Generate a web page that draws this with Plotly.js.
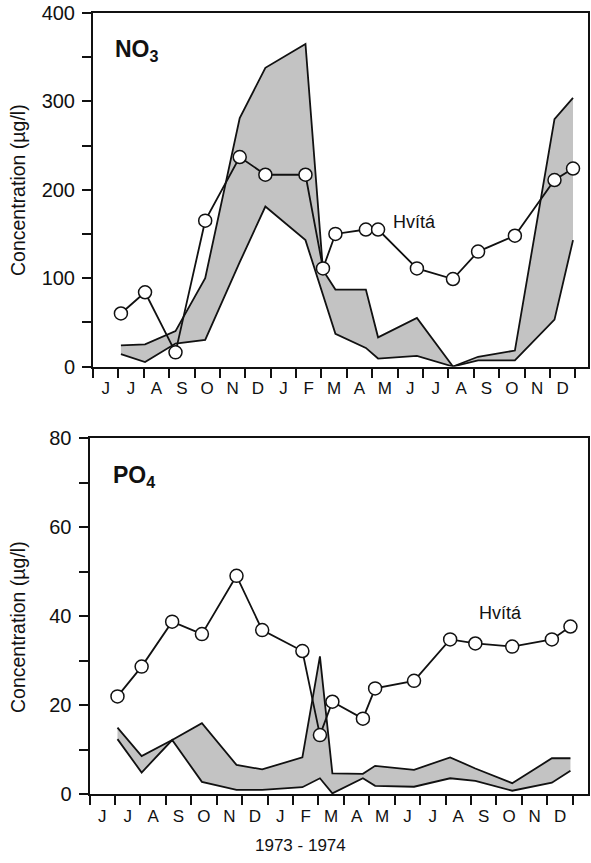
<!DOCTYPE html>
<html><head><meta charset="utf-8">
<script src="https://cdn.plot.ly/plotly-3.0.1.min.js"></script>
<style>html,body{margin:0;padding:0;background:#fff}#chart{width:591px;height:863px}</style>
</head><body><div id="chart"></div>
<script>
// Month labels (June 1973 – December 1974)
const monthLabels = ['J','J','A','S','O','N','D','J','F','M','A','M','J','J','A','S','O','N','D'];
// Sampling dates, in months since 1 June 1973
const sampleMonths = [1.1, 2.05, 3.25, 4.42, 5.78, 6.79, 8.37, 9.06, 9.55, 10.75, 11.23, 12.76, 14.18, 15.17, 16.62, 18.18, 18.91];

// NO3 (µg/l)
const no3Hvita    = [60, 84, 16, 165, 237, 217, 217, 111, 150, 155, 155, 111, 99, 130, 148, 211, 224];
const no3BandHigh = [24, 25, 40, 100, 281, 338, 365, 109, 87, 87, 33, 55, 0, 11, 18, 280, 304];
const no3BandLow  = [14, 5, 26, 30, 118, 181, 143, 82, 37, 21, 9, 12, 0, 7, 7, 53, 143];

// PO4 (µg/l)
const po4Hvita    = [22, 28.7, 38.8, 36, 49.1, 36.9, 32.2, 13.3, 20.8, 17, 23.8, 25.5, 34.8, 33.9, 33.2, 34.8, 37.7];
const po4BandHigh = [15, 8.6, 12.2, 16, 6.6, 5.6, 8.3, 31, 4.7, 4.6, 6.4, 5.5, 8.3, 5.8, 2.5, 8.1, 8.1];
const po4BandLow  = [12.4, 4.9, 12.2, 2.8, 1.0, 1.0, 1.6, 3.6, 0.2, 3.6, 1.9, 1.7, 3.6, 3.0, 0.8, 2.6, 5.3];

const no3Labels = [0, 100, 200, 300, 400];
const po4Labels = [0, 20, 40, 60, 80];

const FONT = '"Liberation Sans", Arial, Helvetica, sans-serif';
const BAND = '#c3c3c3';
const INK = '#111';

function bandTraces(high, low, xa, ya) {
  const xs = sampleMonths.concat(sampleMonths.slice().reverse());
  const ys = high.concat(low.slice().reverse());
  return [
    {x: xs, y: ys, xaxis: xa, yaxis: ya, type: 'scatter', mode: 'lines', fill: 'toself',
     fillcolor: BAND, line: {width: 0, color: BAND}, hoverinfo: 'skip', showlegend: false},
    {x: sampleMonths, y: high, xaxis: xa, yaxis: ya, type: 'scatter', mode: 'lines',
     line: {color: INK, width: 1.8}, showlegend: false},
    {x: sampleMonths, y: low, xaxis: xa, yaxis: ya, type: 'scatter', mode: 'lines',
     line: {color: INK, width: 1.8}, showlegend: false}
  ];
}
function hvitaTrace(vals, xa, ya) {
  return {x: sampleMonths, y: vals, xaxis: xa, yaxis: ya, type: 'scatter', mode: 'lines+markers',
    line: {color: INK, width: 1.8},
    marker: {size: 13, color: '#fff', line: {color: INK, width: 1.5}},
    cliponaxis: false, showlegend: false, name: 'Hvítá'};
}

const data = [].concat(
  bandTraces(no3BandHigh, no3BandLow, 'x', 'y'),
  [hvitaTrace(no3Hvita, 'x', 'y')],
  bandTraces(po4BandHigh, po4BandLow, 'x2', 'y2'),
  [hvitaTrace(po4Hvita, 'x2', 'y2')]
);

const W = 591, H = 863;
function xAxis(left, right, rangeMax, anchor) {
  return {
    domain: [left / W, right / W], range: [0, rangeMax], anchor: anchor,
    tickmode: 'array', tickvals: monthLabels.map((_, i) => i + 0.5), ticktext: monthLabels,
    ticks: '', ticklabelstandoff: 5,
    tickfont: {family: FONT, size: 17, color: INK},
    minor: {tickmode: 'linear', tick0: 0, dtick: 1, ticks: 'outside', ticklen: 9, tickwidth: 2, tickcolor: INK},
    showline: true, linecolor: INK, linewidth: 2, mirror: true,
    showgrid: false, zeroline: false, fixedrange: true
  };
}
function yAxis(top, bottom, labels, anchor) {
  const step = labels[1] - labels[0];
  return {
    domain: [1 - bottom / H, 1 - top / H], range: [labels[0], labels[labels.length - 1]], anchor: anchor,
    tickmode: 'array', tickvals: labels,
    ticks: 'outside', ticklen: 9, tickwidth: 2, tickcolor: INK, ticklabelstandoff: 3,
    tickfont: {family: FONT, size: 20, color: INK},
    minor: {tickmode: 'linear', tick0: 0, dtick: step / 2, ticks: 'outside', ticklen: 9, tickwidth: 2, tickcolor: INK},
    showline: true, linecolor: INK, linewidth: 2, mirror: true,
    showgrid: false, zeroline: false, fixedrange: true
  };
}

const layout = {
  width: W, height: H,
  margin: {l: 0, r: 0, t: 0, b: 0},
  paper_bgcolor: '#fff', plot_bgcolor: '#fff',
  font: {family: FONT, color: INK},
  showlegend: false,
  xaxis: xAxis(93, 588, 19.5, 'y'),
  yaxis: yAxis(13, 366.5, no3Labels, 'x'),
  xaxis2: xAxis(89.5, 588, 19.6, 'y2'),
  yaxis2: yAxis(438.3, 794.3, po4Labels, 'x2'),
  annotations: [
    {xref: 'x', yref: 'y', x: 0.8, y: 358, xanchor: 'left', yanchor: 'middle', showarrow: false,
     text: '<b>NO<sub>3</sub></b>', font: {family: FONT, size: 23, color: INK}},
    {xref: 'x2', yref: 'y2', x: 0.85, y: 71.5, xanchor: 'left', yanchor: 'middle', showarrow: false,
     text: '<b>PO<sub>4</sub></b>', font: {family: FONT, size: 23, color: INK}},
    {xref: 'x', yref: 'y', x: 11.73, y: 163, xanchor: 'left', yanchor: 'middle', showarrow: false,
     text: 'Hvítá', font: {family: FONT, size: 18, color: INK}},
    {xref: 'x2', yref: 'y2', x: 15.24, y: 40.7, xanchor: 'left', yanchor: 'middle', showarrow: false,
     text: 'Hvítá', font: {family: FONT, size: 18, color: INK}},
    {xref: 'paper', yref: 'paper', x: 18 / W, y: 1 - 190 / H, xanchor: 'center', yanchor: 'middle',
     textangle: -90, showarrow: false, text: 'Concentration (µg/l)', font: {family: FONT, size: 19.5, color: INK}},
    {xref: 'paper', yref: 'paper', x: 18 / W, y: 1 - 627 / H, xanchor: 'center', yanchor: 'middle',
     textangle: -90, showarrow: false, text: 'Concentration (µg/l)', font: {family: FONT, size: 19.5, color: INK}},
    {xref: 'paper', yref: 'paper', x: 300 / W, y: 1 - 845 / H, xanchor: 'center', yanchor: 'middle',
     showarrow: false, text: '1973 - 1974', font: {family: FONT, size: 17, color: INK}}
  ]
};

Plotly.newPlot('chart', data, layout, {staticPlot: true, displayModeBar: false});
</script>
</body></html>
